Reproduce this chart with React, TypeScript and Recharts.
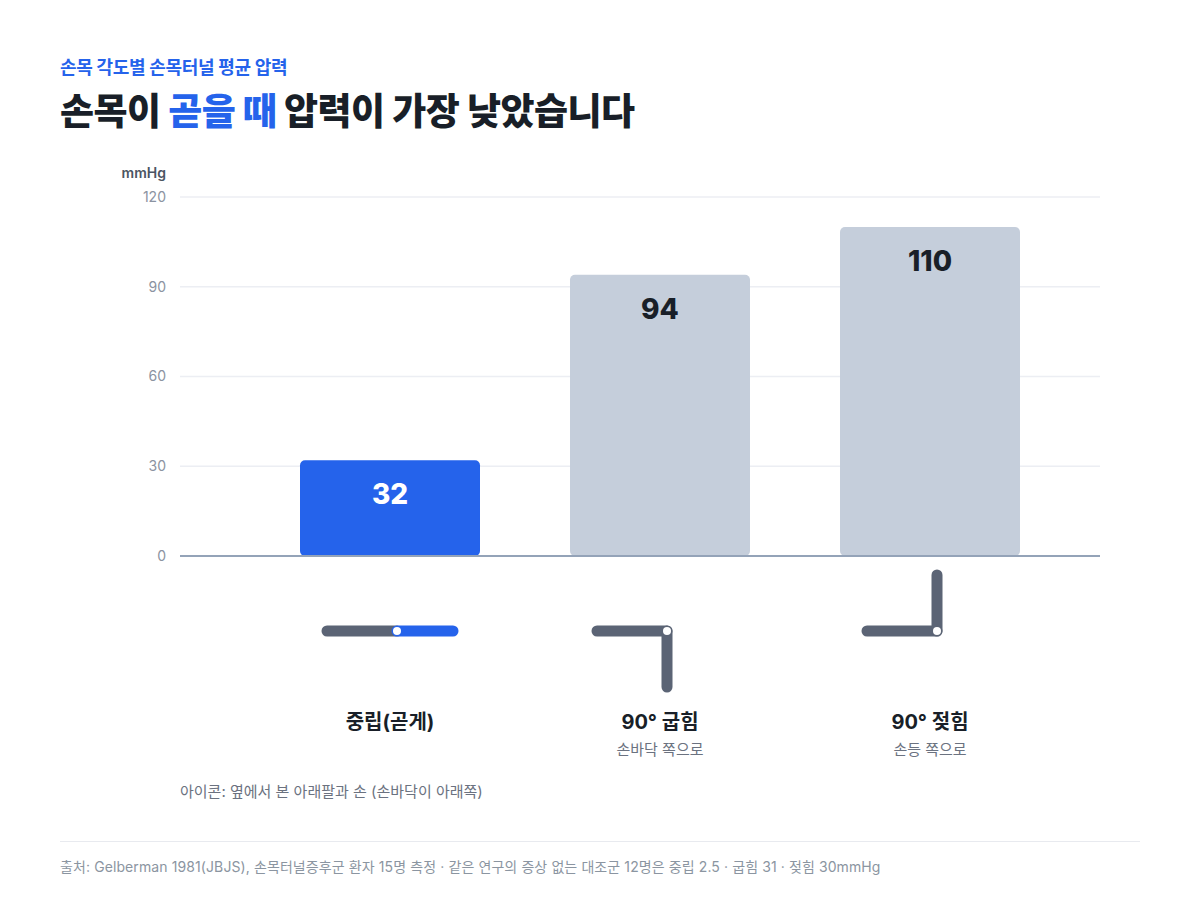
import { BarChart, Bar, Cell, XAxis, YAxis, CartesianGrid, LabelList } from 'recharts'

const categories = ['중립(곧게)', '90° 굽힘', '90° 젖힘']
const subLabels = ['', '손바닥 쪽으로', '손등 쪽으로']
const pressures = [32, 94, 110]
const handAngles = [0, 90, -90] // 손 방향 (deg, 화면 기준 아래가 +)
const yTicks = [0, 30, 60, 90, 120]

const BLUE = '#2563eb'
const GRAY_BAR = '#c5cedb'
const ICON = '#5b6475'
const DARK = '#191f28'
const FONT = 'Inter, "Noto Sans CJK KR", sans-serif'

const data = categories.map((name, i) => ({ name, value: pressures[i] }))

function IconTick(props: any) {
  const { x, y, payload } = props
  const i = props.index ?? categories.indexOf(payload.value)
  const px = x + 7
  const py = y + 75
  const a = (handAngles[i] * Math.PI) / 180
  const hx = px + Math.cos(a) * 56
  const hy = py + Math.sin(a) * 56
  return (
    <g>
      <line x1={px - 70} y1={py} x2={px} y2={py} stroke={ICON} strokeWidth={11} strokeLinecap="round" />
      <line x1={px} y1={py} x2={hx} y2={hy} stroke={i === 0 ? BLUE : ICON} strokeWidth={11} strokeLinecap="round" />
      <circle cx={px} cy={py} r={4} fill="#fff" />
      <text x={x} y={y + 166} textAnchor="middle" dominantBaseline="central" fontSize={20} fontWeight={700} fill={DARK} fontFamily={FONT}>
        {payload.value}
      </text>
      {subLabels[i] && (
        <text x={x} y={y + 193} textAnchor="middle" dominantBaseline="central" fontSize={15} fill="#6b7280" fontFamily={FONT}>
          {subLabels[i]}
        </text>
      )}
    </g>
  )
}

function ValueLabel(props: any) {
  const { x, y, width, value, index } = props
  return (
    <text x={x + width / 2} y={y + 34} textAnchor="middle" dominantBaseline="central" fontSize={28} fontWeight={800} fill={index === 0 ? '#fff' : DARK} fontFamily={FONT}>
      {value}
    </text>
  )
}

export default function App() {
  return (
    <div style={{ position: 'absolute', top: 0, left: 0, width: 1200, height: 918, background: '#fff', fontFamily: FONT }}>
      <div style={{ position: 'absolute', left: 60, top: 53, fontSize: 18, fontWeight: 700, color: BLUE, letterSpacing: -0.3 }}>
        손목 각도별 손목터널 평균 압력
      </div>
      <div style={{ position: 'absolute', left: 60, top: 82, fontSize: 37, fontWeight: 800, color: DARK, letterSpacing: -0.5, whiteSpace: 'nowrap' }}>
        손목이 <span style={{ color: BLUE }}>곧을 때</span> 압력이 가장 낮았습니다
      </div>
      <div style={{ position: 'absolute', left: 110, top: 164, width: 56, textAlign: 'right', fontSize: 14, fontWeight: 600, color: '#4b5563' }}>
        mmHg
      </div>
      <div style={{ position: 'absolute', top: 0, left: 0 }}>
        <BarChart width={1200} height={800} data={data} margin={{ top: 197, right: 100, bottom: 0, left: 120 }}>
          <CartesianGrid vertical={false} stroke="#eceef3" strokeWidth={1.5} />
          <XAxis
            dataKey="name"
            height={244}
            interval={0}
            tickLine={false}
            tickSize={0}
            tickMargin={0}
            axisLine={{ stroke: '#94a3b8', strokeWidth: 2 }}
            padding={{ left: 75, right: 35 }}
            tick={(p: any) => <IconTick {...p} />}
          />
          <YAxis
            width={60}
            domain={[0, 120]}
            ticks={yTicks}
            axisLine={false}
            tickLine={false}
            tickSize={6}
            tickMargin={8}
            tick={{ fill: '#8b93a1', fontSize: 14, fontFamily: FONT }}
          />
          <Bar dataKey="value" barSize={180} radius={5} isAnimationActive={false}>
            {data.map((_, i) => (
              <Cell key={i} fill={i === 0 ? BLUE : GRAY_BAR} />
            ))}
            <LabelList dataKey="value" content={(p: any) => <ValueLabel {...p} />} />
          </Bar>
        </BarChart>
      </div>
      <div style={{ position: 'absolute', left: 180, top: 780, fontSize: 15, color: '#6b7280' }}>
        아이콘: 옆에서 본 아래팔과 손 (손바닥이 아래쪽)
      </div>
      <div style={{ position: 'absolute', left: 60, top: 841, width: 1080, height: 1, background: '#e8eaef' }} />
      <div style={{ position: 'absolute', left: 60, top: 856, fontSize: 14, color: '#8b95a1', letterSpacing: 0.1 }}>
        출처: Gelberman 1981(JBJS), 손목터널증후군 환자 15명 측정 · 같은 연구의 증상 없는 대조군 12명은 중립 2.5 · 굽힘 31 · 젖힘 30mmHg
      </div>
    </div>
  )
}
